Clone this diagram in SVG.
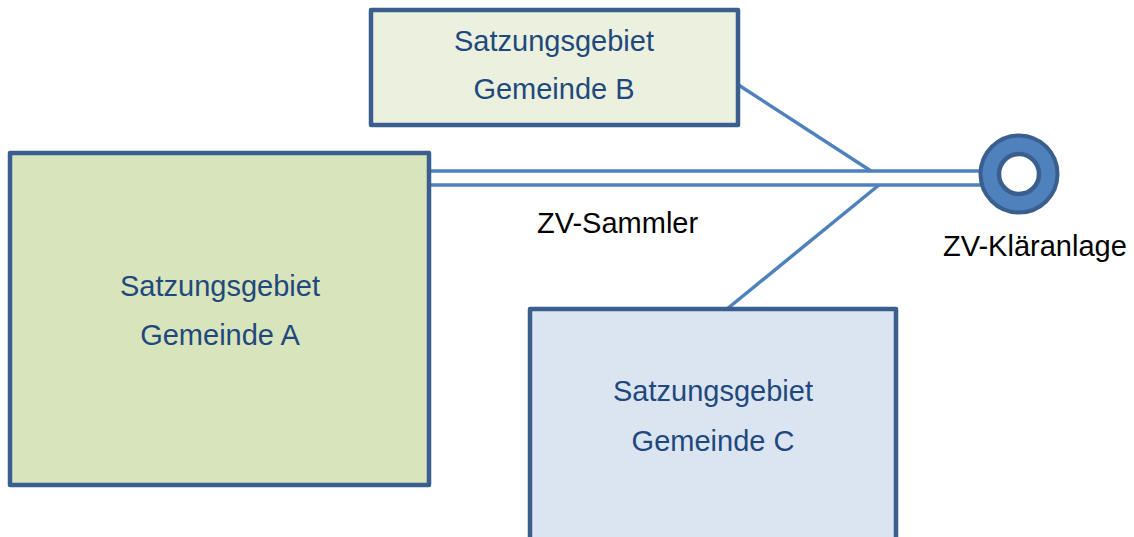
<svg xmlns="http://www.w3.org/2000/svg" width="1134" height="537" viewBox="0 0 1134 537">
<style>
.box{stroke:#3a5f8f;stroke-width:4.5;stroke-linejoin:round}
.lbl{font-family:"Liberation Sans",Arial,sans-serif;font-size:29px;fill:#1f497d;text-anchor:middle}
.txt{font-family:"Liberation Sans",Arial,sans-serif;font-size:29px;fill:#000}
.pipe{stroke:#4f81bd;stroke-width:3.5;fill:none}
</style>
<rect width="1134" height="537" fill="#fff"/>
<g id="connectors">
<line class="pipe" x1="431" y1="171" x2="985" y2="171"/>
<line class="pipe" x1="431" y1="185" x2="985" y2="185"/>
<line class="pipe" x1="737" y1="84" x2="871" y2="171"/>
<line class="pipe" x1="879" y1="185" x2="727" y2="309"/>
</g>
<g id="nodeB">
<rect class="box" x="371" y="10" width="367" height="115" fill="#ebf1de"/>
<text class="lbl" x="554" y="51">Satzungsgebiet</text>
<text class="lbl" x="554" y="99">Gemeinde B</text>
</g>
<g id="nodeA">
<rect class="box" x="10" y="153" width="419" height="332" fill="#d8e4bc"/>
<text class="lbl" x="220" y="296">Satzungsgebiet</text>
<text class="lbl" x="220" y="345">Gemeinde A</text>
</g>
<g id="nodeC">
<rect class="box" x="530" y="309" width="366" height="240" fill="#dbe5f1"/>
<text class="lbl" x="713" y="401">Satzungsgebiet</text>
<text class="lbl" x="713" y="451">Gemeinde C</text>
</g>
<g id="klaeranlage">
<circle cx="1019" cy="174" r="38.5" fill="#4f81bd" stroke="#3a5f8f" stroke-width="4"/>
<circle cx="1019" cy="174" r="20" fill="#fff" stroke="#3a5f8f" stroke-width="4.5"/>
<text class="txt" x="943" y="256">ZV-Kläranlage</text>
</g>
<g id="sammler-label">
<text class="txt" x="537" y="233">ZV-Sammler</text>
</g>
</svg>
